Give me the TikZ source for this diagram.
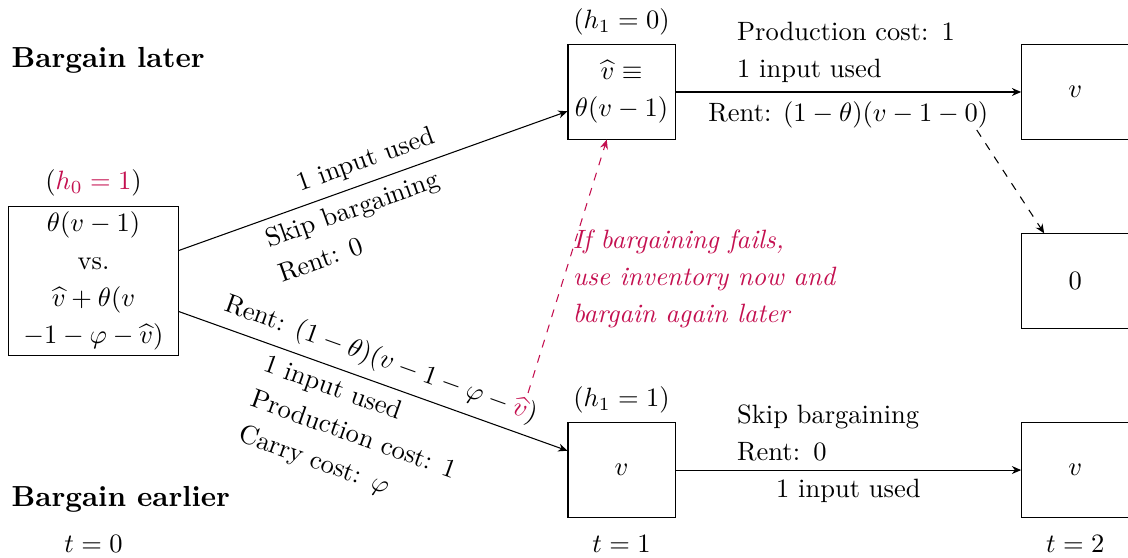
\documentclass[tikz,border=0pt]{standalone}
\definecolor{failred}{RGB}{196, 16, 80}
\usepackage{tikz}
\usetikzlibrary{arrows.meta, positioning}
\usepackage{amsmath, amssymb}

\begin{document}
\begin{tikzpicture}[
  font=\fontsize{10}{14}\selectfont,
  state/.style={draw, align=center, inner sep=2pt, minimum width=1.42cm, minimum height=1.25cm},
  side/.style={anchor=west, font=\fontsize{10.95}{14}\selectfont\bfseries},
  move/.style={-{Stealth[length=3.5pt, width=3pt]}},
  above block/.style={above, text width=2.95cm, align=left},
  note/.style={align=left, text=failred, font=\fontsize{10}{14}\selectfont\itshape}
]
  \useasboundingbox (0, 0) rectangle (14.96, -7.40);

  \node[side] (sidelater) at (0.03, -0.80) {Bargain later};
  \node[side] (sideearly) at (0.03, -6.62) {Bargain earlier};

  \node[draw, align=center, inner xsep=5.6pt, inner ysep=2.2pt] (root) at (1.240, -3.727) {
    $\theta(v-1)$\\
    vs.\\
    $\widehat{v}+\theta(v$\\
    $-1-\varphi-\widehat{v})$
  };
  \node[state] (wait) at (8.243, -1.220) {$\widehat{v}\equiv$\\$\theta(v-1)$};
  \node[state] (early) at (8.243, -6.234) {$v$};
  \node[state] (waitend) at (14.26, -1.220) {$v$};
  \node[state] (failend) at (14.26, -3.727) {$0$};
  \node[state] (earlyend) at (14.26, -6.234) {$v$};

  \node[above=0pt of root] (rootlab) {$({\color{failred}h_0=1})$};
  \node[above=0pt of wait] (waitlab) {$(h_1=0)$};
  \node[above=0pt of early] (earlylab) {$(h_1=1)$};

  \node (t0) at (1.240, -7.215) {$t=0$};
  \node (t1) at (8.243, -7.215) {$t=1$};
  \node (t2) at (14.26, -7.215) {$t=2$};

  \draw[move] (root) --
    node[midway, above, sloped] (waitin) {1 input used}
    node[pos=0.43, below, sloped, align=left] (waitrent) {Skip bargaining\\Rent: 0} (wait);
  \draw[move] (root) --
    node[midway, above, sloped] (earlyrent) {Rent: $(1-\theta)(v-1-\varphi-{\color{failred}\widehat{v}})$}
    node[midway, below, sloped, align=left] (earlyin) {1 input used\\Production cost: 1\\Carry cost: $\varphi$} (early);

  \draw[move] (wait) --
    node[above block] (waitcost) {Production cost: 1\\1 input used}
    node[below] (waitend rent) {Rent: $(1-\theta)(v-1-0)$} (waitend);
  \draw[move] (early) --
    node[above block] (earlyskip) {Skip bargaining\\Rent: 0}
    node[below] (earlyused) {1 input used} (earlyend);

  \coordinate (rentend) at (12.954, -1.724);
  \draw[move, dashed] (rentend) -- (failend);

  \coordinate (vhat) at (7.003, -5.212);
  \draw[move, dashed, failred] (vhat) --
    node[pos=0.45, right, note] (fail) {If bargaining fails,\\use inventory now and\\bargain again later} (wait);
\end{tikzpicture}
\end{document}
